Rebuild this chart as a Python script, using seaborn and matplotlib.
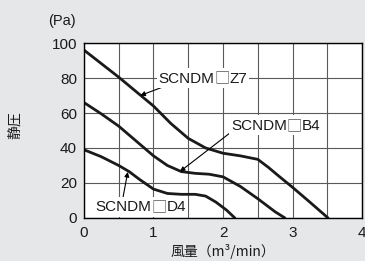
#!/usr/bin/env python3
"""Static pressure vs air flow curves (SCNDM series)."""
import matplotlib
matplotlib.use("Agg")
import matplotlib.pyplot as plt
import pandas as pd
import seaborn as sns
from matplotlib.offsetbox import AnnotationBbox, HPacker, TextArea
from matplotlib.ticker import MultipleLocator

# --- data ---
z7_flow = [0, 0.5, 1.0, 1.25, 1.5, 1.75, 2.0, 2.25, 2.5, 2.65, 2.8, 3.0, 3.25, 3.51]
z7_pres = [96, 80.5, 64, 54, 45.5, 40, 37, 35.5, 33.5, 29, 24, 17.5, 9, 0]

b4_flow = [0, 0.25, 0.5, 0.75, 1.0, 1.2, 1.4, 1.6, 1.8, 2.0, 2.25, 2.5, 2.75, 2.89]
b4_pres = [66, 59.5, 52.5, 44, 35.5, 30, 26.5, 25.5, 25, 23.5, 18, 11, 3.5, 0]

d4_flow = [0, 0.25, 0.5, 0.65, 0.8, 1.0, 1.2, 1.4, 1.6, 1.75, 1.9, 2.05, 2.17]
d4_pres = [39, 35, 30, 26.5, 22, 16.5, 14, 13.5, 13.5, 12.5, 9, 4.5, 0]

series_names = ["SCNDM\u25a1Z7", "SCNDM\u25a1B4", "SCNDM\u25a1D4"]
x_ticks = [0, 1, 2, 3, 4]
y_ticks = [0, 20, 40, 60, 80, 100]

BG = "#e6e7e9"
INK = "#1a1a1a"
LATIN = ["Liberation Sans", "Noto Sans CJK JP"]
CJK = ["Noto Sans CJK JP", "DejaVu Sans"]

sns.set_theme(style="white")
plt.rcParams["font.family"] = LATIN + ["DejaVu Sans"]

rows = []
for name, xs, ys in zip(series_names, [z7_flow, b4_flow, d4_flow],
                        [z7_pres, b4_pres, d4_pres]):
    for x, y in zip(xs, ys):
        rows.append({"model": name, "flow": x, "pressure": y})
df = pd.DataFrame(rows)

fig = plt.figure(figsize=(3.65, 2.61), dpi=100, facecolor=BG)
ax = fig.add_axes([0.230, 0.165, 0.762, 0.670])
ax.set_facecolor("white")

sns.lineplot(data=df, x="flow", y="pressure", units="model", estimator=None,
             sort=False, color=INK, linewidth=2.0, ax=ax, legend=False)

ax.set_xlim(0, 4)
ax.set_ylim(0, 100)
ax.set_xticks(x_ticks)
ax.xaxis.set_minor_locator(MultipleLocator(0.5))
ax.set_yticks(y_ticks)
ax.grid(True, which="both", color="#5a5a5a", linewidth=0.8)
ax.set_axisbelow(True)
for s in ax.spines.values():
    s.set_color("black")
    s.set_linewidth(1.0)
    s.set_zorder(5)
ax.tick_params(which="both", length=0, labelsize=11, colors=INK)
ax.tick_params(axis="x", pad=6)
ax.tick_params(axis="y", pad=5)

ax.set_xlabel("風量（m³/min）", fontsize=10, color=INK, family=CJK, labelpad=3)
ax.set_ylabel("静圧", fontsize=10, color=INK, family=CJK)
ax.yaxis.set_label_coords(-0.222, 0.53)
fig.text(62 / 365, 1 - 21 / 261, "(Pa)", fontsize=10.5, color=INK,
         ha="center", va="center")

arrow = dict(arrowstyle="-|>", lw=0.8, color="black", mutation_scale=7,
             shrinkA=0, shrinkB=0)
labels = [
    (series_names[0], (1.71, 80), (1.17, 75.4), (0.81, 70.0)),
    (series_names[1], (2.76, 53), (2.10, 48.6), (1.38, 26.5)),
    (series_names[2], (0.82, 6.3), (0.56, 11.4), (0.63, 26.3)),
]
for text, pos, start, tip in labels:
    ax.annotate("", xy=tip, xytext=start, arrowprops=arrow, zorder=6)
    head, tail = text.split("\u25a1")
    parts = [
        TextArea(head, textprops=dict(fontsize=11, color=INK, family=LATIN)),
        TextArea("\u25a1", textprops=dict(fontsize=11, color="#555555", family=CJK)),
        TextArea(tail, textprops=dict(fontsize=11, color=INK, family=LATIN)),
    ]
    pack = HPacker(children=parts, align="baseline", pad=0, sep=0)
    ab = AnnotationBbox(pack, pos, xycoords="data", frameon=True, pad=0.1,
                        box_alignment=(0.5, 0.5),
                        bboxprops=dict(fc="white", ec="none"), zorder=7)
    ax.add_artist(ab)

fig.savefig("out.png", dpi=100, facecolor=BG)
